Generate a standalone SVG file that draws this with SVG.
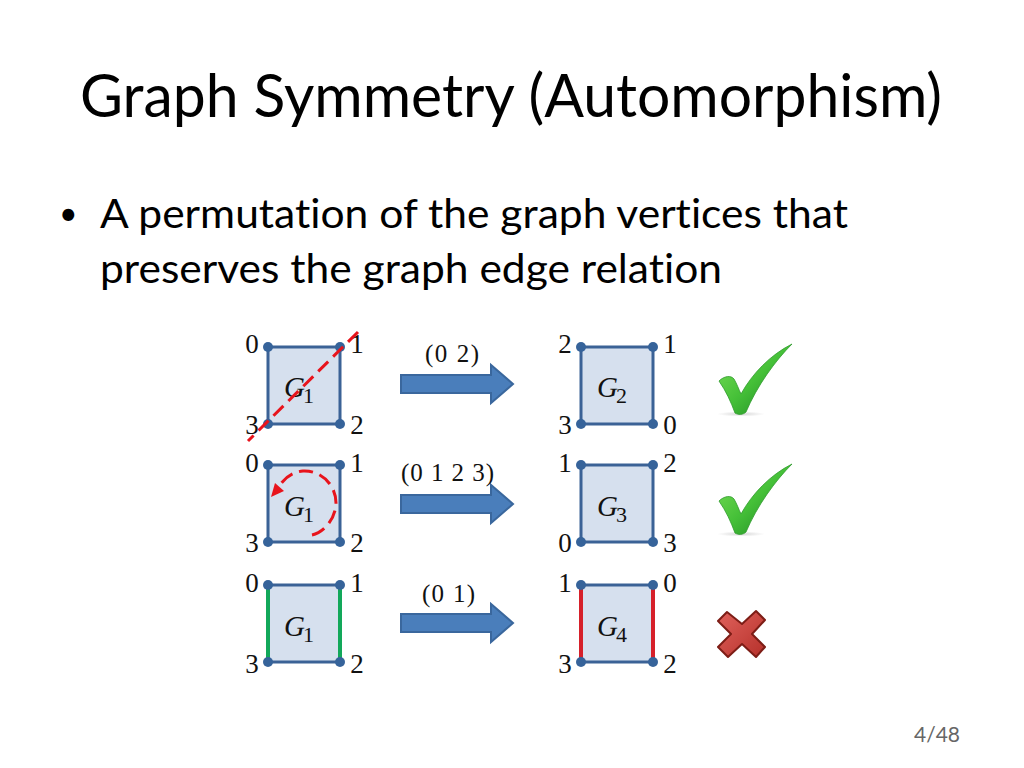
<svg xmlns="http://www.w3.org/2000/svg" width="1024" height="768" viewBox="0 0 1024 768">
<defs>
<style>
.t{font-family:Lato,"Open Sans",sans-serif;fill:#000;font-variant-ligatures:none}
.n{font-family:"Liberation Serif",serif;font-size:27px;fill:#111;text-anchor:middle}
.l{font-family:"Liberation Serif",serif;font-size:25px;fill:#111}
.g{font-family:"Liberation Serif",serif;font-style:italic;font-size:29px;fill:#111}
.s{font-family:"Liberation Serif",serif;font-size:22px;fill:#111}
.b{fill:#d6e0ee;stroke:#3b6296;stroke-width:3}
.d{fill:#36639a}
.arr{fill:#4a7ebb;stroke:#3a679d;stroke-width:2}
.red{stroke:#e8141c;stroke-width:3;fill:none;stroke-dasharray:14 7}
.ge{stroke:#12a85a;stroke-width:4;fill:none}
.re{stroke:#d6202a;stroke-width:4;fill:none}
</style>
<linearGradient id="cg" x1="0" y1="0" x2="1" y2="1"><stop offset="0" stop-color="#7fe05a"/><stop offset="0.5" stop-color="#45c038"/><stop offset="1" stop-color="#177d1f"/></linearGradient>
<linearGradient id="xg" x1="0" y1="0" x2="1" y2="1"><stop offset="0" stop-color="#e0625c"/><stop offset="1" stop-color="#b5302a"/></linearGradient>
<radialGradient id="sh"><stop offset="0" stop-color="#888" stop-opacity=".35"/><stop offset="1" stop-color="#888" stop-opacity="0"/></radialGradient>
<g id="check">
<ellipse cx="741" cy="414" rx="24" ry="2.5" fill="url(#sh)"/>
<path d="M719 381C724 376 731 375 734 379C737 384 739 390 741 394C752 374 770 355 792 344C775 361 757 386 746 412C743 415 738 415 735 413C731 402 726 391 719 381Z" fill="url(#cg)" stroke="#2f9a2c" stroke-width=".8"/>
</g>
</defs>
<rect width="1024" height="768" fill="#fff"/>
<text class="t" x="80" y="117" font-size="60" textLength="862" lengthAdjust="spacingAndGlyphs">Graph Symmetry (Automorphism)</text>
<text class="t" x="59" y="225" font-size="32">•</text>
<text class="t" x="100" y="228" font-size="41" textLength="748" lengthAdjust="spacingAndGlyphs">A permutation of the graph vertices that</text>
<text class="t" x="100" y="283" font-size="41" textLength="622" lengthAdjust="spacingAndGlyphs">preserves the graph edge relation</text>
<g id="node-g1-a"><rect class="b" x="268" y="347" width="72" height="77"/><circle class="d" cx="268" cy="347" r="5"/><circle class="d" cx="340" cy="347" r="5"/><circle class="d" cx="340" cy="424" r="5"/><circle class="d" cx="268" cy="424" r="5"/>
<text class="n" x="252" y="353">0</text><text class="n" x="357" y="353">1</text><text class="n" x="357" y="434">2</text><text class="n" x="252" y="434">3</text>
<text class="g" x="284" y="397">G</text><text class="s" x="303" y="403">1</text></g>
<g id="node-g2"><rect class="b" x="581" y="347" width="72" height="77"/><circle class="d" cx="581" cy="347" r="5"/><circle class="d" cx="653" cy="347" r="5"/><circle class="d" cx="653" cy="424" r="5"/><circle class="d" cx="581" cy="424" r="5"/>
<text class="n" x="565" y="353">2</text><text class="n" x="670" y="353">1</text><text class="n" x="670" y="434">0</text><text class="n" x="565" y="434">3</text>
<text class="g" x="597" y="397">G</text><text class="s" x="616" y="403">2</text></g>
<g id="node-g1-b"><rect class="b" x="268" y="465" width="72" height="77"/><circle class="d" cx="268" cy="465" r="5"/><circle class="d" cx="340" cy="465" r="5"/><circle class="d" cx="340" cy="542" r="5"/><circle class="d" cx="268" cy="542" r="5"/>
<text class="n" x="252" y="472">0</text><text class="n" x="357" y="472">1</text><text class="n" x="357" y="552">2</text><text class="n" x="252" y="552">3</text>
<text class="g" x="284" y="516">G</text><text class="s" x="303" y="522">1</text></g>
<g id="node-g3"><rect class="b" x="581" y="465" width="72" height="77"/><circle class="d" cx="581" cy="465" r="5"/><circle class="d" cx="653" cy="465" r="5"/><circle class="d" cx="653" cy="542" r="5"/><circle class="d" cx="581" cy="542" r="5"/>
<text class="n" x="565" y="472">1</text><text class="n" x="670" y="472">2</text><text class="n" x="670" y="552">3</text><text class="n" x="565" y="552">0</text>
<text class="g" x="597" y="516">G</text><text class="s" x="616" y="522">3</text></g>
<g id="node-g1-c"><rect class="b" x="268" y="585" width="72" height="77"/><path class="ge" d="M268 585V662M340 585V662"/><circle class="d" cx="268" cy="585" r="5"/><circle class="d" cx="340" cy="585" r="5"/><circle class="d" cx="340" cy="662" r="5"/><circle class="d" cx="268" cy="662" r="5"/>
<text class="n" x="252" y="592">0</text><text class="n" x="357" y="592">1</text><text class="n" x="357" y="673">2</text><text class="n" x="252" y="673">3</text>
<text class="g" x="284" y="636">G</text><text class="s" x="303" y="642">1</text></g>
<g id="node-g4"><rect class="b" x="581" y="585" width="72" height="77"/><path class="re" d="M581 585V662M653 585V662"/><circle class="d" cx="581" cy="585" r="5"/><circle class="d" cx="653" cy="585" r="5"/><circle class="d" cx="653" cy="662" r="5"/><circle class="d" cx="581" cy="662" r="5"/>
<text class="n" x="565" y="592">1</text><text class="n" x="670" y="592">0</text><text class="n" x="670" y="673">2</text><text class="n" x="565" y="673">3</text>
<text class="g" x="597" y="636">G</text><text class="s" x="616" y="642">4</text></g>
<g id="connectors">
<path class="arr" d="M401 375H491V365L513 384L491 403V393H401Z"/>
<path class="arr" d="M401 495H491V485L513 504L491 523V513H401Z"/>
<path class="arr" d="M401 614H491V604L513 623L491 642V632H401Z"/>
<path class="red" d="M358 332L248 441"/>
<path class="red" d="M312 535C326 532 336 516 336 503C336 484 320 470 303 471C291 472 282 480 277 490"/>
<path d="M271 497L284 491L275 483Z" fill="#e8141c"/>
</g>
<g id="labels">
<text class="l" x="425" y="362" textLength="54">(0 2)</text>
<text class="l" x="401" y="481" textLength="93">(0 1 2 3)</text>
<text class="l" x="422" y="602" textLength="53">(0 1)</text>
</g>
<g id="mark-1"><use href="#check"/></g>
<g id="mark-2"><use href="#check" y="120"/></g>
<g id="mark-3"><path d="M718 621L727 612L742 624L756 611L765 620L752 634L765 647L756 657L742 644L728 657L718 647L731 634Z" fill="url(#xg)" stroke="#7d1d16" stroke-width="2" stroke-linejoin="round"/></g>
<text x="937" y="742" font-family="Lato,sans-serif" font-size="21" fill="#666" text-anchor="middle">4/48</text>
</svg>
